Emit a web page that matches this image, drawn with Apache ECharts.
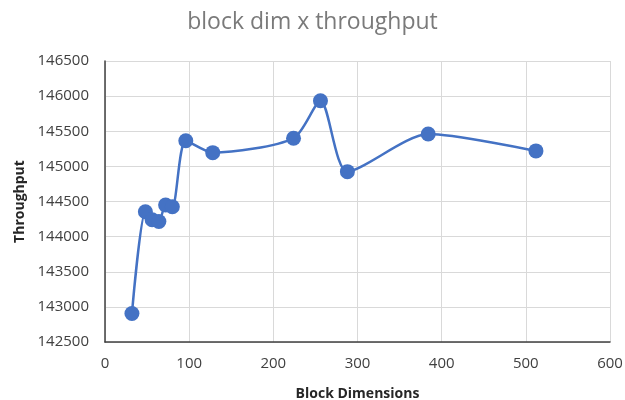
<!DOCTYPE html>
<html>
<head>
<meta charset="utf-8">
<script src="https://cdn.jsdelivr.net/npm/echarts@6/dist/echarts.min.js"></script>
<style>
  html, body { margin: 0; padding: 0; background: #ffffff; }
  #chart { width: 625px; height: 400px; }
</style>
</head>
<body>
<div id="chart"></div>
<script>
// block dimension vs measured throughput
const blockDims = [32, 48, 56, 64, 72, 80, 96, 128, 224, 256, 288, 384, 512];
const throughput = [142905, 144355, 144240, 144215, 144450, 144425, 145365, 145195, 145400, 145935, 144925, 145460, 145220];

const chart = echarts.init(document.getElementById("chart"), null, { renderer: "canvas" });

const labelFont = "'Open Sans', 'Liberation Sans', sans-serif";
const gridColor = "#d9d9d9";
const axisColor = "#404040";

chart.setOption({
  backgroundColor: "#ffffff",
  animation: false,
  title: {
    text: "block dim x throughput",
    left: "center",
    top: 6,
    textStyle: { color: "#7a7a7a", fontSize: 23, fontWeight: "normal", fontFamily: labelFont },
  },
  grid: { left: 105, right: 15, top: 61, bottom: 58, containLabel: false, outerBoundsMode: "none" },
  xAxis: {
    type: "value",
    min: 0,
    max: 600,
    interval: 100,
    name: "Block Dimensions",
    nameLocation: "middle",
    nameGap: 45,
    nameTextStyle: { color: "#262626", fontSize: 14, fontWeight: "bold", fontFamily: labelFont },
    axisLine: { show: true, lineStyle: { color: axisColor, width: 1.5 } },
    axisTick: { show: false },
    axisLabel: { color: "#404040", fontSize: 15, margin: 14, fontFamily: labelFont },
    splitLine: { show: true, lineStyle: { color: gridColor, width: 1 } },
  },
  yAxis: {
    type: "value",
    min: 142500,
    max: 146500,
    interval: 500,
    name: "Throughput",
    nameLocation: "middle",
    nameGap: 74,
    nameRotate: 90,
    nameTextStyle: { color: "#262626", fontSize: 14, fontWeight: "bold", fontFamily: labelFont },
    axisLine: { show: true, lineStyle: { color: axisColor, width: 1.5 } },
    axisTick: { show: false },
    axisLabel: { color: "#404040", fontSize: 15, margin: 16, fontFamily: labelFont, formatter: (v) => String(v) },
    splitLine: { show: true, lineStyle: { color: gridColor, width: 1 } },
  },
  series: [
    {
      type: "line",
      data: blockDims.map((d, i) => [d, throughput[i]]),
      smooth: 0.25,
      symbol: "circle",
      symbolSize: 15,
      lineStyle: { color: "#4472c4", width: 2.5 },
      itemStyle: { color: "#4472c4" },
    },
  ],
});
</script>
</body>
</html>
